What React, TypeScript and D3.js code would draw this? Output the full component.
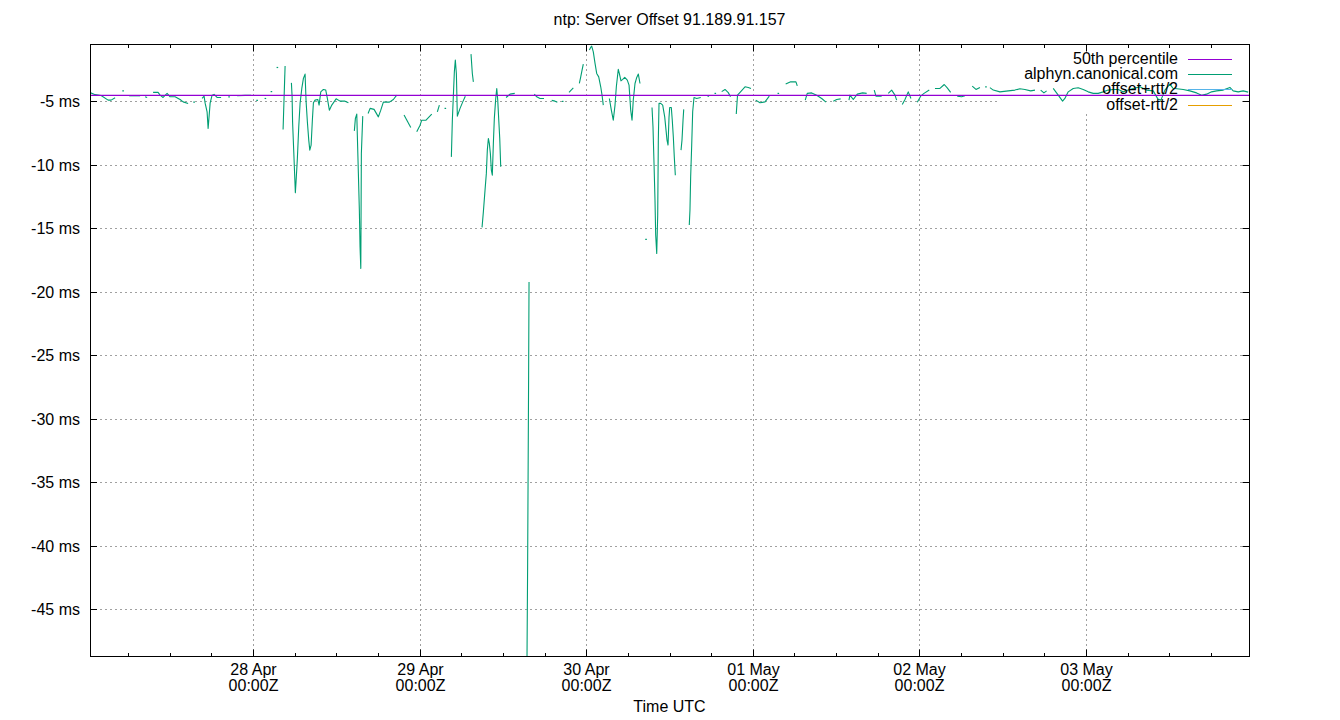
import React from "react";
import * as d3 from "d3";

// ---- data ----
const chartTitle = "ntp: Server Offset 91.189.91.157";
const xAxisTitle = "Time UTC";
const startIso = "2024-04-27T00:00:00Z"; // hours below are counted from here
const xDomainHours = [0.5, 167.5];
const yDomainMs = [-48.7, -0.5];
const yTickValues = [-45, -40, -35, -30, -25, -20, -15, -10, -5];
const medianOffsetMs = -4.55;
const legendLabels = ["50th percentile", "alphyn.canonical.com", "offset+rtt/2", "offset-rtt/2"];
const legendColors = ["#9400d3", "#009e73", "#56b4e9", "#e69f00"];

// offset samples for alphyn.canonical.com: [hours since start, offset ms]; each inner list is an unbroken run
const offsetSegments: [number, number][][] = [
  [[0.52, -4.33], [1.24, -4.49], [2.1, -4.55], [3.11, -4.92], [3.54, -4.92], [4.12, -4.74]],
  [[5.27, -4.19]],
  [[6.14, -4.58], [7.72, -4.58]],
  [[8.44, -4.65], [8.73, -4.72]],
  [[9.59, -4.31], [10.31, -4.31], [10.6, -4.53], [11.03, -4.71], [11.61, -4.39], [12.04, -4.66], [12.76, -4.66], [13.48, -4.87], [13.92, -5.06], [14.64, -5.18]],
  [[15.5, -5.08]],
  [[16.65, -4.79], [16.94, -4.61], [17.09, -5.16], [17.37, -5.84], [17.52, -7.15], [17.81, -5.16], [18.09, -4.53], [18.38, -4.47], [18.81, -4.71], [19.39, -4.71]],
  [[20.54, -4.66]],
  [[21.7, -4.58], [22.85, -4.55], [23.71, -4.55]],
  [[24.58, -4.94]],
  [[25.77, -4.79]],
  [[26.64, -4.25]],
  [[27.5, -2.35]],
  [[28.32, -7.23], [28.61, -2.24]],
  [[29.52, -3.56], [29.62, -4.61], [29.69, -6.65], [29.86, -8.99], [30.01, -11.09], [30.09, -12.22], [30.19, -11.35], [30.38, -9.51], [30.58, -7.02], [30.77, -5.18], [31.02, -4.0], [31.25, -3.21], [31.49, -2.87], [31.64, -5.06], [31.82, -6.63], [32.02, -8.07], [32.17, -8.86], [32.36, -8.46], [32.54, -6.5], [32.69, -5.13], [32.93, -4.92], [33.32, -4.87], [33.51, -5.31], [33.75, -4.27], [34.13, -4.08], [34.47, -4.13], [34.7, -4.79], [34.99, -5.71], [35.34, -5.31], [35.96, -4.82], [36.53, -5.0], [37.25, -5.0], [37.73, -5.13]],
  [[38.59, -7.34], [38.74, -6.36], [38.94, -6.02], [39.02, -7.68], [39.17, -10.69], [39.31, -13.58], [39.41, -16.47], [39.52, -18.17], [39.6, -9.12], [39.8, -6.18]],
  [[40.57, -5.97], [40.86, -5.57], [41.43, -5.65], [42.05, -6.24], [42.4, -5.71], [42.77, -5.08], [43.64, -5.08], [44.21, -4.87], [44.7, -4.53]],
  [[45.75, -6.1], [46.72, -7.07]],
  [[47.58, -7.42], [48.06, -6.89], [48.3, -6.5], [48.92, -6.5], [49.74, -6.02]],
  [[50.55, -5.84], [50.84, -5.31]],
  [[51.7, -5.57]],
  [[52.57, -9.39], [52.71, -6.5], [52.86, -4.53], [53.0, -2.69], [53.14, -1.77], [53.29, -2.82], [53.43, -6.18], [53.82, -5.57], [54.21, -5.06], [54.58, -4.61]],
  [[55.4, -1.3], [55.59, -2.82], [55.74, -3.48]],
  [[56.99, -14.94], [57.18, -13.72], [57.42, -12.01], [57.61, -10.69], [57.75, -8.86], [57.9, -7.94], [58.04, -8.33], [58.19, -9.12], [58.33, -10.43], [58.47, -10.83], [58.62, -8.33], [58.76, -6.36], [58.96, -4.79], [59.11, -4.0], [59.25, -4.92], [59.4, -6.5], [59.54, -7.94], [59.68, -10.17]],
  [[60.45, -4.71], [61.02, -4.45], [61.7, -4.39]],
  [[63.33, -60.0], [63.56, -41.38], [63.7, -26.65], [63.76, -19.25]],
  [[64.52, -4.45], [64.87, -4.66], [65.34, -4.79], [65.92, -4.79]],
  [[67.03, -4.94], [67.51, -5.0], [67.84, -5.08]],
  [[68.61, -5.02]],
  [[69.52, -4.31], [70.14, -3.95]],
  [[71.01, -3.61], [71.21, -3.09], [71.4, -2.56], [71.58, -2.09]],
  [[72.45, -0.98], [72.62, -0.79], [72.79, -0.67], [73.02, -1.12], [73.27, -2.03], [73.51, -2.82], [73.8, -3.09], [74.09, -3.87], [74.28, -4.53], [74.46, -5.31]],
  [[75.33, -4.79], [75.62, -5.71], [75.9, -6.5], [76.15, -5.31], [76.34, -3.87], [76.62, -2.5], [76.77, -2.82], [77.01, -3.4], [77.26, -3.29], [77.55, -3.13], [77.92, -3.35], [78.17, -3.74], [78.41, -5.71], [78.6, -6.5], [78.78, -4.92], [79.03, -3.61], [79.28, -3.13], [79.51, -2.87], [79.75, -3.61]],
  [[80.62, -15.89]],
  [[81.48, -5.5], [81.62, -7.02], [81.77, -9.91], [81.91, -12.8], [82.01, -15.55], [82.16, -17.0], [82.3, -13.98], [82.39, -8.07], [82.49, -5.18], [82.73, -5.18], [83.02, -5.31], [83.31, -6.24], [83.5, -7.28], [83.64, -8.07], [83.79, -8.46], [83.93, -6.28], [84.03, -5.5], [84.26, -5.5], [84.4, -6.5], [84.55, -7.81], [84.69, -9.39], [84.84, -10.83]],
  [[85.66, -8.86], [85.8, -8.07], [85.95, -6.5], [86.05, -5.65]],
  [[86.85, -14.76], [86.95, -13.58], [87.05, -10.96], [87.2, -8.46], [87.34, -5.84], [87.53, -4.71], [87.92, -4.79], [88.5, -4.71]],
  [[89.59, -4.61]],
  [[90.6, -4.39]],
  [[91.52, -4.25], [92.0, -4.08], [92.47, -4.33], [92.79, -4.66]],
  [[93.62, -6.02], [93.8, -4.53], [94.2, -4.29], [94.88, -3.87], [95.35, -3.92], [95.74, -4.0]],
  [[96.42, -4.92], [97.04, -5.13], [97.76, -5.06], [98.38, -4.61]],
  [[99.68, -4.39]],
  [[100.74, -3.66], [101.46, -3.48], [102.22, -3.48], [102.41, -3.8]],
  [[103.56, -4.92], [103.85, -4.39], [104.49, -4.35], [105.21, -4.53], [105.93, -4.79], [106.55, -5.08]],
  [[107.6, -5.0], [108.09, -4.87], [108.66, -4.82]],
  [[109.86, -4.92], [110.0, -4.53], [110.48, -4.87], [111.06, -4.45], [111.83, -4.35], [112.41, -4.39]],
  [[113.5, -4.13], [113.75, -4.61], [114.57, -4.61]],
  [[115.52, -4.39], [116.01, -4.13], [116.49, -4.53], [116.73, -4.92]],
  [[117.54, -5.26], [117.93, -4.87], [118.4, -4.27], [118.79, -4.79]],
  [[119.7, -5.08], [120.19, -4.61], [120.67, -4.39], [121.43, -4.13]],
  [[122.25, -4.0], [122.97, -4.0], [123.59, -3.69], [124.02, -3.95], [124.51, -4.31]],
  [[125.46, -4.61], [126.09, -4.66], [126.57, -4.58]],
  [[127.62, -3.82], [128.16, -4.08], [128.73, -3.92]],
  [[129.6, -3.87]],
  [[130.17, -3.94], [130.65, -4.13], [131.61, -4.27], [132.81, -4.19], [133.77, -4.13], [134.49, -4.03], [135.21, -4.08], [136.04, -4.19], [136.66, -4.13]],
  [[137.48, -4.13], [137.95, -4.35], [138.34, -4.19]],
  [[139.29, -4.0], [140.01, -4.53], [140.64, -5.0], [140.97, -4.79], [141.45, -4.27], [142.17, -4.0], [142.89, -3.95], [143.61, -4.08], [144.33, -4.27], [145.05, -4.39], [145.77, -4.39], [146.49, -4.27], [147.21, -4.13], [147.93, -4.08], [148.65, -4.08], [149.38, -4.27], [150.1, -4.13], [150.82, -4.0], [151.78, -3.87], [152.74, -4.13], [153.7, -4.19], [154.38, -4.84], [154.81, -4.92], [155.38, -4.13], [156.1, -3.66], [156.53, -3.98], [158.02, -4.08], [158.98, -4.19], [159.95, -4.35], [160.67, -4.53], [161.39, -4.45], [162.11, -4.27], [162.83, -4.19], [163.78, -4.13], [164.75, -3.92], [165.22, -4.19], [165.94, -4.27], [166.66, -4.19], [167.38, -4.29]],
];

// ---- layout ----
const W = 1340;
const H = 720;
const M = { left: 90, right: 1249, top: 44, bottom: 656 };
const FONT = "'Liberation Sans', Arial, Helvetica, sans-serif";
const FS = 16;

const startMs = Date.parse(startIso);
const hourToDate = (h: number) => new Date(startMs + h * 3600e3);

export default function App() {
  const x = d3.scaleUtc().domain(xDomainHours.map(hourToDate)).range([M.left, M.right]);
  const y = d3.scaleLinear().domain(yDomainMs).range([M.bottom, M.top]);
  const [d0, d1] = x.domain();
  const dayTicks = d3.utcDay.range(d3.utcDay.ceil(d0), d1);
  const minorTicks = d3.utcHour.every(6)!.range(d3.utcHour.ceil(d0), d1).filter((d) => d.getUTCHours() !== 0);
  const fmtDay = d3.utcFormat("%d %b");
  const fmtTime = d3.utcFormat("%H:%MZ");

  const line = d3
    .line<[number, number]>()
    .x((d) => x(hourToDate(d[0])))
    .y((d) => y(d[1]));

  const keyBox = { x0: 998, x1: 1242, y0: M.top, y1: 113 };
  const gridStyle = { stroke: "#a0a0a0", strokeWidth: 1, strokeDasharray: "2,3" };

  return (
    <svg width={W} height={H} style={{ position: "absolute", left: 0, top: 0, background: "#fff" }} fontFamily={FONT}>
      <defs>
        <clipPath id="plotClip">
          <rect x={M.left} y={M.top} width={M.right - M.left} height={M.bottom - M.top} />
        </clipPath>
      </defs>
      <rect x={0} y={0} width={W} height={H} fill="#fff" />
      {/* grid */}
      {yTickValues.map((v) => (
        <line key={"gy" + v} x1={M.left} x2={M.right} y1={Math.round(y(v)) + 0.5} y2={Math.round(y(v)) + 0.5} {...gridStyle} />
      ))}
      {dayTicks.map((d) => (
        <line key={"gx" + +d} x1={Math.round(x(d)) + 0.5} x2={Math.round(x(d)) + 0.5} y1={M.top} y2={M.bottom} {...gridStyle} />
      ))}
      {/* key background */}
      <rect x={keyBox.x0} y={keyBox.y0 + 1} width={keyBox.x1 - keyBox.x0} height={keyBox.y1 - keyBox.y0} fill="#fff" />
      {/* data */}
      <g clipPath="url(#plotClip)">
        {offsetSegments.map((seg, i) =>
          seg.length > 1 ? (
            <path key={"s" + i} d={line(seg) || ""} fill="none" stroke={legendColors[1]} strokeWidth={1.1} strokeLinejoin="round" />
          ) : (
            <line
              key={"s" + i}
              x1={x(hourToDate(seg[0][0])) - 0.8}
              x2={x(hourToDate(seg[0][0])) + 0.8}
              y1={y(seg[0][1])}
              y2={y(seg[0][1])}
              stroke={legendColors[1]}
              strokeWidth={1.2}
            />
          )
        )}
        <line x1={M.left} x2={M.right} y1={y(medianOffsetMs)} y2={y(medianOffsetMs)} stroke={legendColors[0]} strokeWidth={1.2} />
      </g>
      {/* border */}
      <rect x={M.left + 0.5} y={M.top + 0.5} width={M.right - M.left} height={M.bottom - M.top} fill="none" stroke="#000" strokeWidth={1} />
      {/* ticks */}
      {yTickValues.map((v) => {
        const yy = Math.round(y(v)) + 0.5;
        return (
          <g key={"ty" + v}>
            <line x1={M.left} x2={M.left + 7} y1={yy} y2={yy} stroke="#000" />
            <line x1={M.right + 0.5} x2={M.right - 6.5} y1={yy} y2={yy} stroke="#000" />
            <text x={80} y={yy + 5} textAnchor="end" fontSize={FS} fill="#000">
              {v} ms
            </text>
          </g>
        );
      })}
      {dayTicks.map((d) => {
        const xx = Math.round(x(d)) + 0.5;
        return (
          <g key={"tx" + +d}>
            <line x1={xx} x2={xx} y1={M.bottom + 0.5} y2={M.bottom - 6.5} stroke="#000" />
            <line x1={xx} x2={xx} y1={M.top + 0.5} y2={M.top + 7.5} stroke="#000" />
            <text x={xx} y={675} textAnchor="middle" fontSize={FS} fill="#000">
              {fmtDay(d)}
            </text>
            <text x={xx} y={691} textAnchor="middle" fontSize={FS} fill="#000">
              {fmtTime(d)}
            </text>
          </g>
        );
      })}
      {minorTicks.map((d) => {
        const xx = Math.round(x(d)) + 0.5;
        return (
          <g key={"mx" + +d}>
            <line x1={xx} x2={xx} y1={M.bottom + 0.5} y2={M.bottom - 3} stroke="#000" />
            <line x1={xx} x2={xx} y1={M.top + 0.5} y2={M.top + 4} stroke="#000" />
          </g>
        );
      })}
      {/* titles */}
      <text x={(M.left + M.right) / 2} y={25} textAnchor="middle" fontSize={FS} fill="#000">
        {chartTitle}
      </text>
      <text x={(M.left + M.right) / 2} y={712} textAnchor="middle" fontSize={FS} fill="#000">
        {xAxisTitle}
      </text>
      {/* legend */}
      {legendLabels.map((lab, i) => {
        const yy = 59 + i * 15.2;
        return (
          <g key={"lg" + i}>
            <text x={1178} y={yy + 5} textAnchor="end" fontSize={FS} fill="#000">
              {lab}
            </text>
            <line x1={1188} x2={1232} y1={Math.round(yy) + 0.5} y2={Math.round(yy) + 0.5} stroke={legendColors[i]} strokeWidth={1} />
          </g>
        );
      })}
    </svg>
  );
}
